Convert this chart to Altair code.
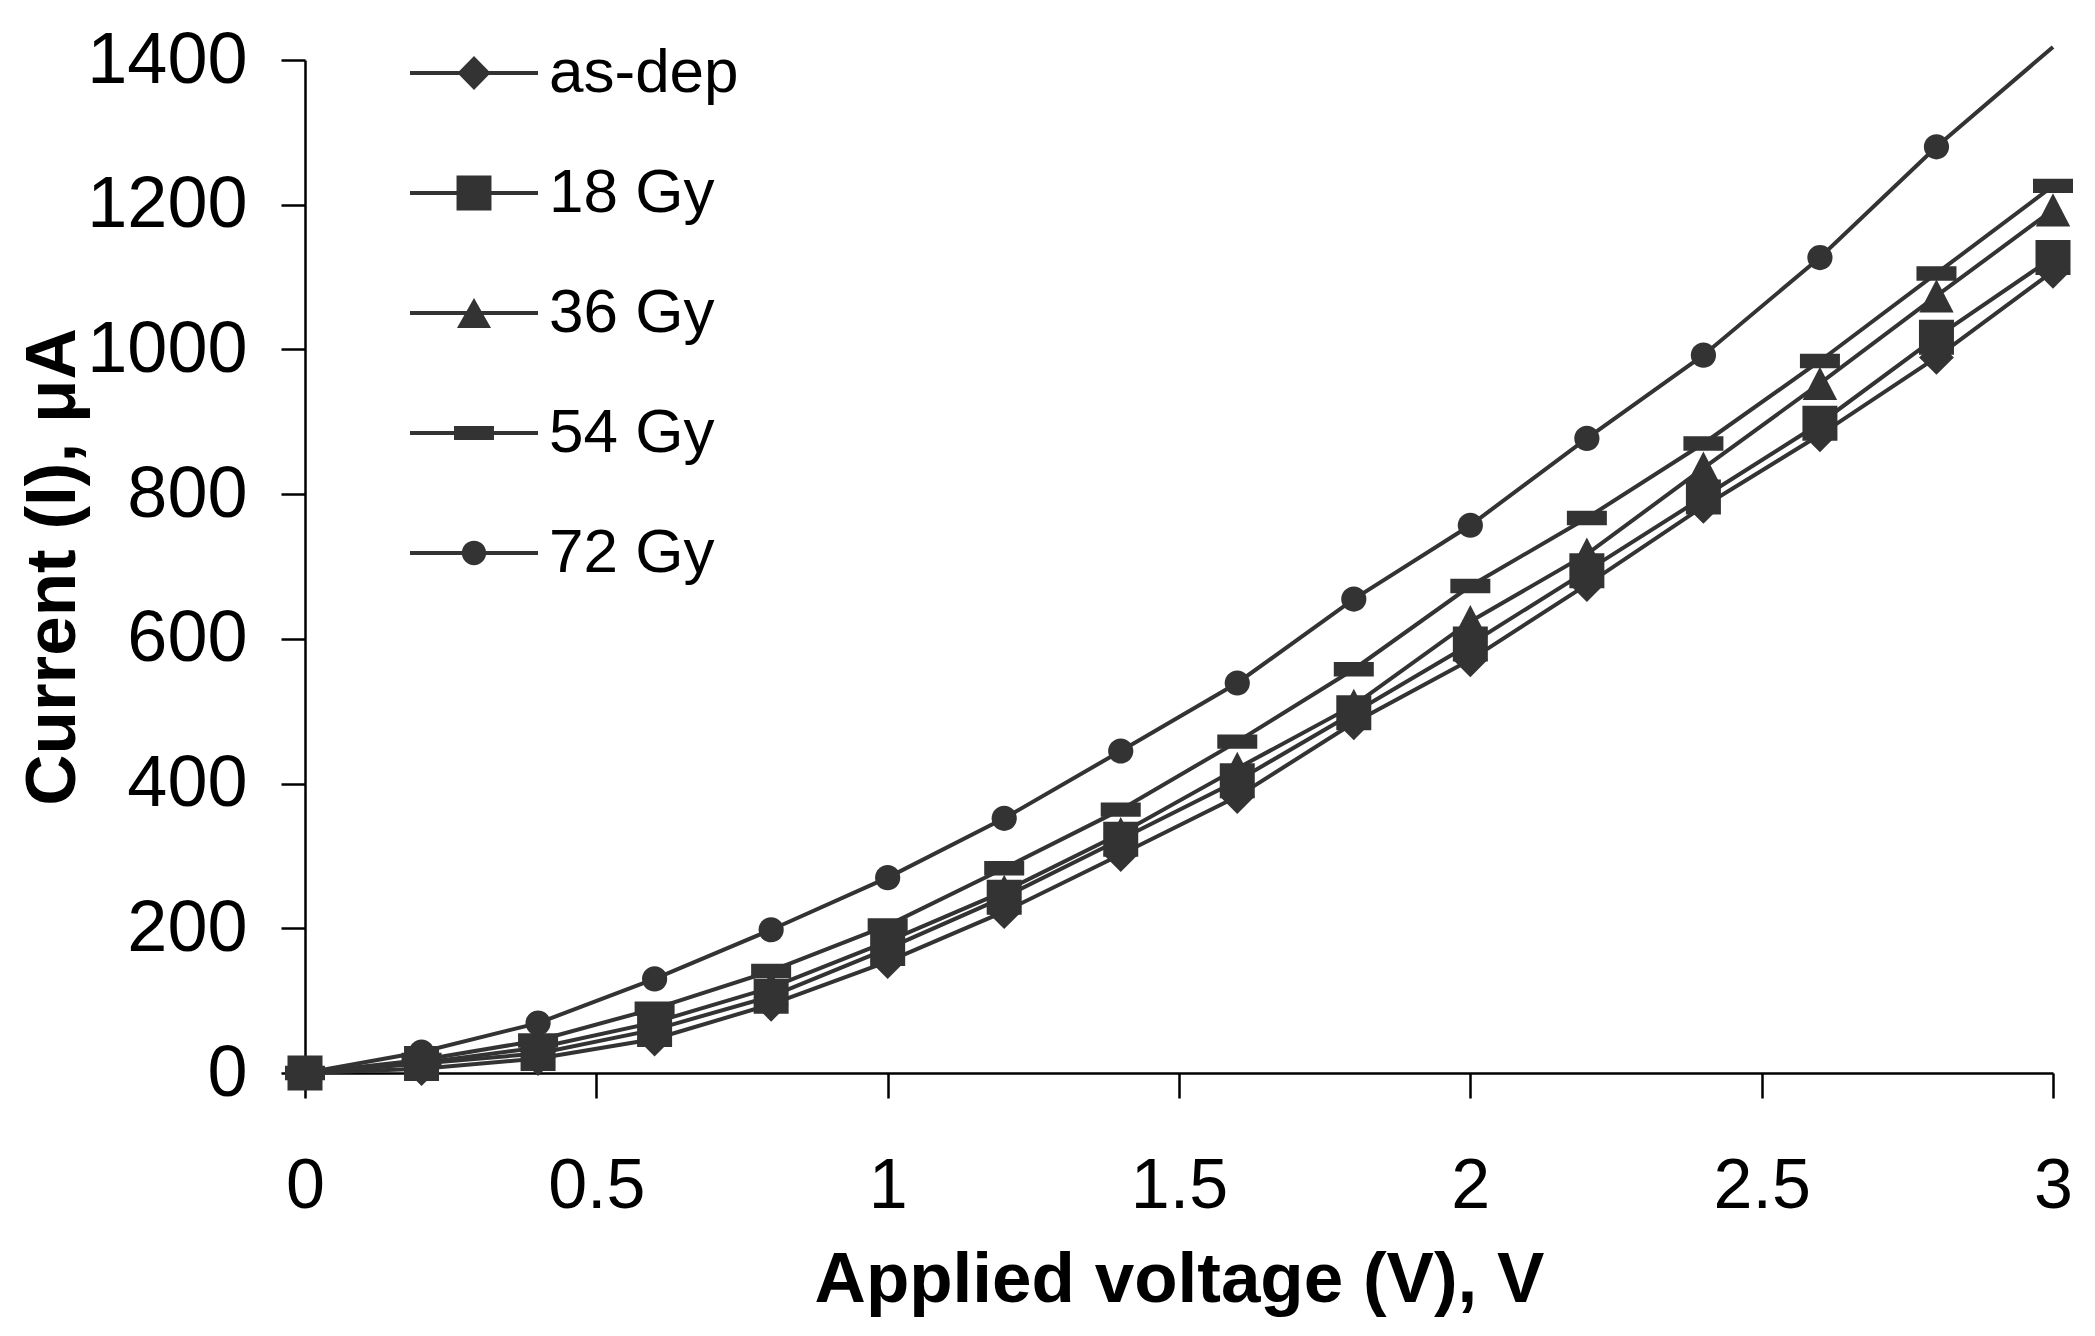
import altair as alt
import pandas as pd

voltage = [0, 0.2, 0.4, 0.6, 0.8, 1.0, 1.2, 1.4, 1.6, 1.8, 2.0, 2.2, 2.4, 2.6, 2.8, 3.0]
as_dep = [0, 6, 20, 47, 95, 154, 223, 302, 382, 484, 571, 675, 783, 882, 989, 1108]
gy18 = [0, 13, 27, 60, 106, 172, 243, 323, 404, 498, 593, 694, 796, 898, 1017, 1127]
gy36 = [0, 14, 35, 70, 118, 182, 251, 331, 421, 508, 624, 717, 836, 953, 1074, 1193]
gy54 = [0, 18, 45, 89, 141, 204, 283, 364, 458, 558, 673, 767, 870, 984, 1105, 1226]
gy72 = [0, 29, 69, 130, 198, 270, 352, 445, 539, 655, 757, 877, 992, 1127, 1280, 1418]

series_names = ["as-dep", "18 Gy", "36 Gy", "54 Gy", "72 Gy"]
series_values = [as_dep, gy18, gy36, gy54, gy72]

x_ticks = [0, 0.5, 1, 1.5, 2, 2.5, 3]
y_ticks = [0, 200, 400, 600, 800, 1000, 1200, 1400]

rows = []
for name, vals in zip(series_names, series_values):
    for v, i in zip(voltage, vals):
        rows.append({"series": name, "V": v, "I": i})
df = pd.DataFrame(rows)

INK = "#333333"
FONT = "Liberation Sans"

# plot marker shapes (unit paths, drawn at size 1600 -> 40 px box)
marker_paths = [
    "M-0.87,0L0,-0.87L0.87,0L0,0.87Z",
    "M-0.875,-0.875H0.875V0.875H-0.875Z",
    "M0,-0.83L0.86,0.83L-0.86,0.83Z",
    "M-1,-0.36H1V0.36H-1Z",
    "M0.63,0A0.63,0.63,0,1,1,-0.63,0A0.63,0.63,0,1,1,0.63,0Z",
]

# legend symbols: line segment with marker (size 16384 -> 128 px box)
bar = "M-1,-0.032H1V0.032H-1Z "
legend_paths = [
    bar + "M-0.26,0L0,-0.265L0.26,0L0,0.265Z",
    bar + "M-0.273,-0.273H0.273V0.273H-0.273Z",
    bar + "M0,-0.236L0.266,0.236L-0.266,0.236Z",
    bar + "M-0.312,-0.109H0.312V0.109H-0.312Z",
    bar + "M0.19,0A0.19,0.19,0,1,1,-0.19,0A0.19,0.19,0,1,1,0.19,0Z",
]

x_enc = alt.X(
    "V:Q",
    scale=alt.Scale(domain=[0, 3], nice=False, zero=False),
    axis=alt.Axis(
        title="Applied voltage (V), V",
        values=x_ticks,
        format="~g",
        labelFlush=False,
        labelOverlap=False,
        labelFontSize=70,
        tickSize=25,
        labelPadding=54,
        titlePadding=24,
    ),
)
y_enc = alt.Y(
    "I:Q",
    scale=alt.Scale(domain=[0, 1400], nice=False),
    axis=alt.Axis(
        title="Current (I), μA",
        values=y_ticks,
        format="d",
        labelOverlap=False,
        labelFontSize=72,
        tickSize=24,
        labelPadding=34,
        titlePadding=16,
    ),
)

lines = alt.Chart(df).mark_line(color=INK, strokeWidth=4).encode(
    x=x_enc, y=y_enc, detail="series:N"
)

points = (
    alt.Chart(df)
    .transform_filter("datum.I <= 1400")
    .mark_point(filled=True, color=INK, size=1600, opacity=1, strokeWidth=0)
    .encode(
        x=x_enc,
        y=y_enc,
        shape=alt.Shape(
            "series:N",
            scale=alt.Scale(domain=series_names, range=marker_paths),
            legend=None,
        ),
    )
)

legend_layer = (
    alt.Chart(df)
    .transform_filter("false")
    .mark_point(filled=True, color=INK, size=16384, opacity=1, strokeWidth=0)
    .encode(
        shape=alt.Shape(
            "series:N",
            scale=alt.Scale(domain=series_names, range=legend_paths),
            legend=alt.Legend(
                title=None,
                orient="none",
                legendX=105,
                legendY=-51,
                symbolSize=16384,
                symbolStrokeWidth=0,
                symbolFillColor=INK,
                symbolOffset=0,
                labelFont=FONT,
                labelFontSize=62,
                labelColor="black",
                labelOffset=11,
                labelLimit=600,
                rowPadding=25,
                padding=0,
            ),
        )
    )
)

chart = (
    alt.layer(lines, points, legend_layer)
    .resolve_scale(shape="independent")
    .properties(
        width=1748,
        height=1013,
        padding={"left": 9, "top": 1, "right": 5, "bottom": 5},
        background="white",
    )
    .configure_view(strokeWidth=0)
    .configure_axis(
        grid=False,
        domainColor="black",
        domainWidth=2.5,
        tickColor="black",
        tickWidth=2.5,
        labelFont=FONT,
        labelColor="black",
        titleFont=FONT,
        titleFontSize=71,
        titleFontWeight="bold",
        titleColor="black",
    )
)

chart.save("out.html", embed_options={"renderer": "svg", "actions": False})
